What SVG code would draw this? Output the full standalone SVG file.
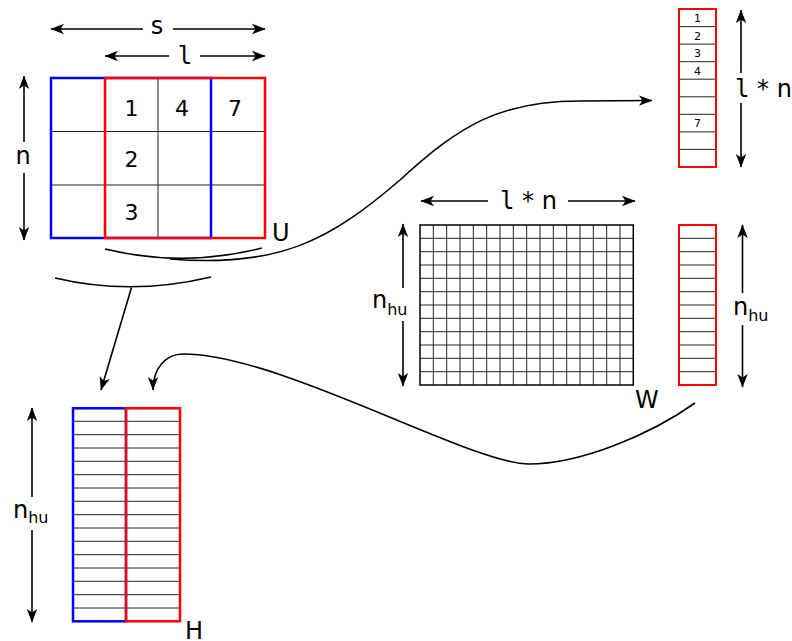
<svg xmlns="http://www.w3.org/2000/svg" width="792" height="641" viewBox="0 0 792 641">
<style>
.t{font-family:"DejaVu Sans","Liberation Sans",sans-serif;fill:#000}
.m{font-family:"DejaVu Sans Mono","Liberation Mono",monospace}
.lbl{font-size:24px}
.dig{font-size:22px;text-anchor:middle}
.sm{font-size:11px;text-anchor:middle}
.grid{fill:none;stroke:#222;stroke-width:1}
.blue{fill:none;stroke:#0000ff;stroke-width:2.5}
.red{fill:none;stroke:#ff0000;stroke-width:2.5}
.dim{fill:none;stroke:#000;stroke-width:1.6;marker-end:url(#ah)}
.con{fill:none;stroke:#000;stroke-width:1.6}
</style>
<defs>
<marker id="ah" viewBox="-14 -6 15 12" refX="0" refY="0" markerWidth="15" markerHeight="12" markerUnits="userSpaceOnUse" orient="auto">
<path d="M0.5,0 L-13,-5.2 L-9.5,0 L-13,5.2 Z" fill="#000"/>
</marker>
</defs>

<g id="U">
<path class="grid" d="M158,78V238M51,131.5H265M51,185H265"/>
<rect class="blue" x="51" y="78" width="160" height="160"/>
<rect class="red" x="105" y="78" width="160" height="160"/>
<text class="t dig" x="131.5" y="116">1</text>
<text class="t dig" x="182" y="116">4</text>
<text class="t dig" x="235" y="116">7</text>
<text class="t dig" x="131.5" y="166.5">2</text>
<text class="t dig" x="131.5" y="219.5">3</text>
<text class="t lbl" x="272" y="241">U</text>
</g>

<g id="dim-s">
<path class="dim" d="M143,29H51"/>
<path class="dim" d="M173,29H265"/>
<text class="t lbl" x="157" y="34" text-anchor="middle">s</text>
</g>
<g id="dim-l">
<path class="dim" d="M169,56H105"/>
<path class="dim" d="M200,56H265"/>
<text class="t m lbl" x="185" y="64" text-anchor="middle">l</text>
</g>
<g id="dim-n">
<path class="dim" d="M24,142V76"/>
<path class="dim" d="M24,173V240"/>
<text class="t lbl" x="23" y="164" text-anchor="middle">n</text>
</g>

<g id="V">
<rect x="679" y="9" width="37" height="158" fill="none" stroke="#ff0000" stroke-width="2"/>
<path class="grid" d="M680,26.6H715M680,44.1H715M680,61.7H715M680,79.2H715M680,96.8H715M680,114.3H715M680,131.9H715M680,149.4H715"/>
<text class="t sm" x="697.5" y="22">1</text>
<text class="t sm" x="697.5" y="39.5">2</text>
<text class="t sm" x="697.5" y="57">3</text>
<text class="t sm" x="697.5" y="74.5">4</text>
<text class="t sm" x="697.5" y="127">7</text>
<path class="dim" d="M741,73V10"/>
<path class="dim" d="M741,103V167"/>
<text class="t lbl" x="735" y="97"><tspan class="m">l</tspan> * n</text>
</g>

<g id="W">
<path class="grid" d="M433.3,225V385M446.7,225V385M460,225V385M473.3,225V385M486.7,225V385M500,225V385M513.3,225V385M526.7,225V385M540,225V385M553.3,225V385M566.7,225V385M580,225V385M593.3,225V385M606.7,225V385M620,225V385M420,238.3H633.3M420,251.7H633.3M420,265H633.3M420,278.3H633.3M420,291.7H633.3M420,305H633.3M420,318.3H633.3M420,331.7H633.3M420,345H633.3M420,358.3H633.3M420,371.7H633.3"/>
<rect x="420" y="225" width="213.3" height="160" fill="none" stroke="#000" stroke-width="1.5"/>
<text class="t lbl" x="635" y="408">W</text>
<path class="dim" d="M488,201H421"/>
<path class="dim" d="M568,201H635"/>
<text class="t lbl" x="500" y="209"><tspan class="m">l</tspan> * n</text>
<path class="dim" d="M403,288V224"/>
<path class="dim" d="M403,321V386"/>
<text class="t" x="372" y="308" font-size="24">n<tspan font-size="16" dy="7">hu</tspan></text>
</g>

<g id="W2">
<path class="grid" d="M680,238.3H715M680,251.7H715M680,265H715M680,278.3H715M680,291.7H715M680,305H715M680,318.3H715M680,331.7H715M680,345H715M680,358.3H715M680,371.7H715"/>
<rect x="679" y="225" width="37" height="160" fill="none" stroke="#ff0000" stroke-width="2"/>
<path class="dim" d="M742.5,293V225"/>
<path class="dim" d="M742.5,325V387"/>
<text class="t" x="733" y="315" font-size="24">n<tspan font-size="16" dy="6">hu</tspan></text>
</g>

<g id="H">
<path class="grid" d="M74,421.3H179M74,434.7H179M74,448H179M74,461.3H179M74,474.7H179M74,488H179M74,501.3H179M74,514.7H179M74,528H179M74,541.3H179M74,554.7H179M74,568H179M74,581.3H179M74,594.7H179M74,608H179"/>
<rect class="blue" x="73" y="408.3" width="53" height="213" stroke-width="2"/>
<rect class="red" x="126" y="408.3" width="54" height="213" stroke-width="2"/>
<text class="t lbl" x="185" y="639">H</text>
<path class="dim" d="M32,497V408"/>
<path class="dim" d="M32,530V622"/>
<text class="t" x="13" y="518" font-size="24">n<tspan font-size="16" dy="5">hu</tspan></text>
</g>

<g id="connectors">
<path class="con" d="M105,249Q183,268 262,248"/>
<path class="con" d="M55,278Q131,296 211,277"/>
<path class="dim" d="M131.5,287.5L101,390"/>
<path class="dim" d="M170,259C280,268 330,240 400,180C460,125 500,101 580,101L652,100.5"/>
<path class="dim" d="M695,403C650,435 580,464 529,464C470,464 280,354 183,354C166,354 153,368 153,390"/>
</g>
</svg>
